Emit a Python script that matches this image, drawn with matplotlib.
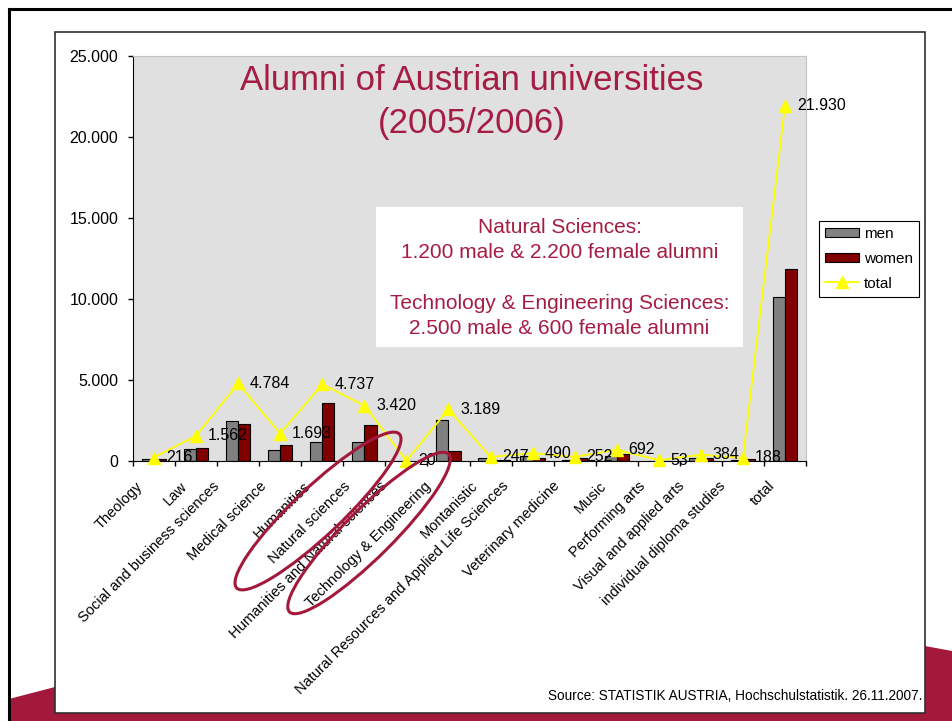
import matplotlib
matplotlib.use('Agg')
import matplotlib.pyplot as plt
import numpy as np
from matplotlib.patches import Ellipse, Rectangle, Polygon
from matplotlib.ticker import FuncFormatter
from matplotlib.transforms import ScaledTranslation

plt.rcParams['font.family'] = ['Liberation Sans', 'DejaVu Sans']

# data
categories = [
    'Theology', 'Law', 'Social and business sciences', 'Medical science',
    'Humanities', 'Natural sciences', 'Humanities and Natural sciences',
    'Technology & Engineering', 'Montanistic',
    'Natural Resources and Applied Life Sciences', 'Veterinary medicine',
    'Music', 'Performing arts', 'Visual and applied arts',
    'individual diploma studies', 'total',
]
men = [120, 740, 2500, 700, 1180, 1200, 8, 2550, 200, 280, 60, 282, 25, 170, 90, 10105]
women = [96, 822, 2284, 993, 3557, 2220, 12, 639, 47, 210, 192, 410, 28, 214, 98, 11825]
total = [216, 1562, 4784, 1693, 4737, 3420, 20, 3189, 247, 490, 252, 692, 53, 384, 188, 21930]
y_ticks = [0, 5000, 10000, 15000, 20000, 25000]

CRIMSON = '#A51C45'
MAROON = '#A3193C'


def dotted(v):
    return '{:,}'.format(int(v)).replace(',', '.')


fig = plt.figure(figsize=(9.52, 7.21), dpi=100)
fig.patch.set_facecolor('white')

# slide background, in pixel coordinates
bg = fig.add_axes([0, 0, 1, 1], zorder=0)
bg.set_xlim(0, 952)
bg.set_ylim(721, 0)
bg.set_axis_off()
bg.add_patch(Polygon([(9, 699), (55, 687), (500, 655), (925, 646), (952, 651),
                      (952, 721), (9, 721)], closed=True,
                     facecolor=MAROON, edgecolor='none'))
bg.add_patch(Rectangle((55, 32), 870, 681, facecolor='white',
                       edgecolor='#303030', lw=1.2))
bg.plot([9, 9], [9, 721], color='black', lw=2.2)
bg.plot([9, 952], [9, 9], color='black', lw=2.2)

# the chart itself
ax = fig.add_axes([133 / 952, 1 - 461 / 721, 673 / 952, 405 / 721], zorder=1)
ax.set_facecolor('#E0E0E0')
x = np.arange(len(categories))
w = 0.29
b_men = ax.bar(x - w / 2, men, w, color='#808080', edgecolor='black', lw=0.8,
               label='men', zorder=2)
b_women = ax.bar(x + w / 2, women, w, color='#800000', edgecolor='black', lw=0.8,
                 label='women', zorder=2)
l_total, = ax.plot(x, total, color='#FFFF00', lw=1.3, marker='^', ms=8,
                   label='total', zorder=3, clip_on=False)

for xi, t in zip(x, total):
    ax.annotate(dotted(t), (xi, t), xytext=(8.6, 0), textcoords='offset points',
                ha='left', va='center', fontsize=11.5, zorder=4)

ax.set_xlim(-0.5, len(categories) - 0.5)
ax.set_ylim(0, 25000)
ax.set_yticks(y_ticks)
ax.yaxis.set_major_formatter(FuncFormatter(lambda v, p: dotted(v)))
ax.tick_params(axis='y', direction='out', length=3.6, width=1, pad=7, labelsize=11.5)
ax.set_xticks(np.arange(len(categories) + 1) - 0.5)
ax.set_xticklabels([])
ax.tick_params(axis='x', direction='out', length=3.6, width=1)
for s in ['top', 'right']:
    ax.spines[s].set_color('#C4C4C4')
for s in ['left', 'bottom']:
    ax.spines[s].set_color('black')

# slanted category names; longer names sit a little further left, as on the slide
for xi, lab in zip(x, categories):
    dx = -11 - 4.5 - 0.36 * len(lab)
    off = ScaledTranslation(dx / 100, -18 / 100, fig.dpi_scale_trans)
    ax.text(xi, 0, lab, transform=ax.get_xaxis_transform() + off,
            rotation=45, rotation_mode='anchor', ha='right', va='top',
            fontsize=10.5)

leg = ax.legend([b_men, b_women, l_total], ['men', 'women', 'total'],
                loc='upper left', bbox_to_anchor=(819 / 952, 1 - 221 / 721),
                bbox_transform=fig.transFigure, frameon=True, fancybox=False,
                edgecolor='black', framealpha=1, fontsize=11,
                handlelength=2.2, handleheight=0.55, handletextpad=0.35,
                labelspacing=0.7, borderpad=0.4, borderaxespad=0)
leg.get_frame().set_linewidth(0.8)

# overlay: title, note box, highlight ellipses, source
ov = fig.add_axes([0, 0, 1, 1], zorder=3)
ov.set_xlim(0, 952)
ov.set_ylim(721, 0)
ov.set_axis_off()
ov.text(472, 102, 'Alumni of Austrian universities\n(2005/2006)',
        ha='center', va='center', fontsize=25, color=CRIMSON, linespacing=1.42)
ov.add_patch(Rectangle((376, 207), 367, 140, facecolor='white', edgecolor='none'))
ov.text(559.5, 278,
        'Natural Sciences:\n1.200 male & 2.200 female alumni\n\n'
        'Technology & Engineering Sciences:\n2.500 male & 600 female alumni',
        ha='center', va='center', fontsize=15, color=CRIMSON, linespacing=1.43)
ov.add_patch(Ellipse((318, 511), 224, 48, angle=-43.4, fill=False,
                     edgecolor=MAROON, lw=2.2))
ov.add_patch(Ellipse((369, 533), 224, 48, angle=-44.8, fill=False,
                     edgecolor=MAROON, lw=2.2))
ov.text(922, 696, 'Source: STATISTIK AUSTRIA, Hochschulstatistik. 26.11.2007.',
        ha='right', va='center', fontsize=9.8)

fig.savefig('out.png', dpi=100, facecolor='white')
